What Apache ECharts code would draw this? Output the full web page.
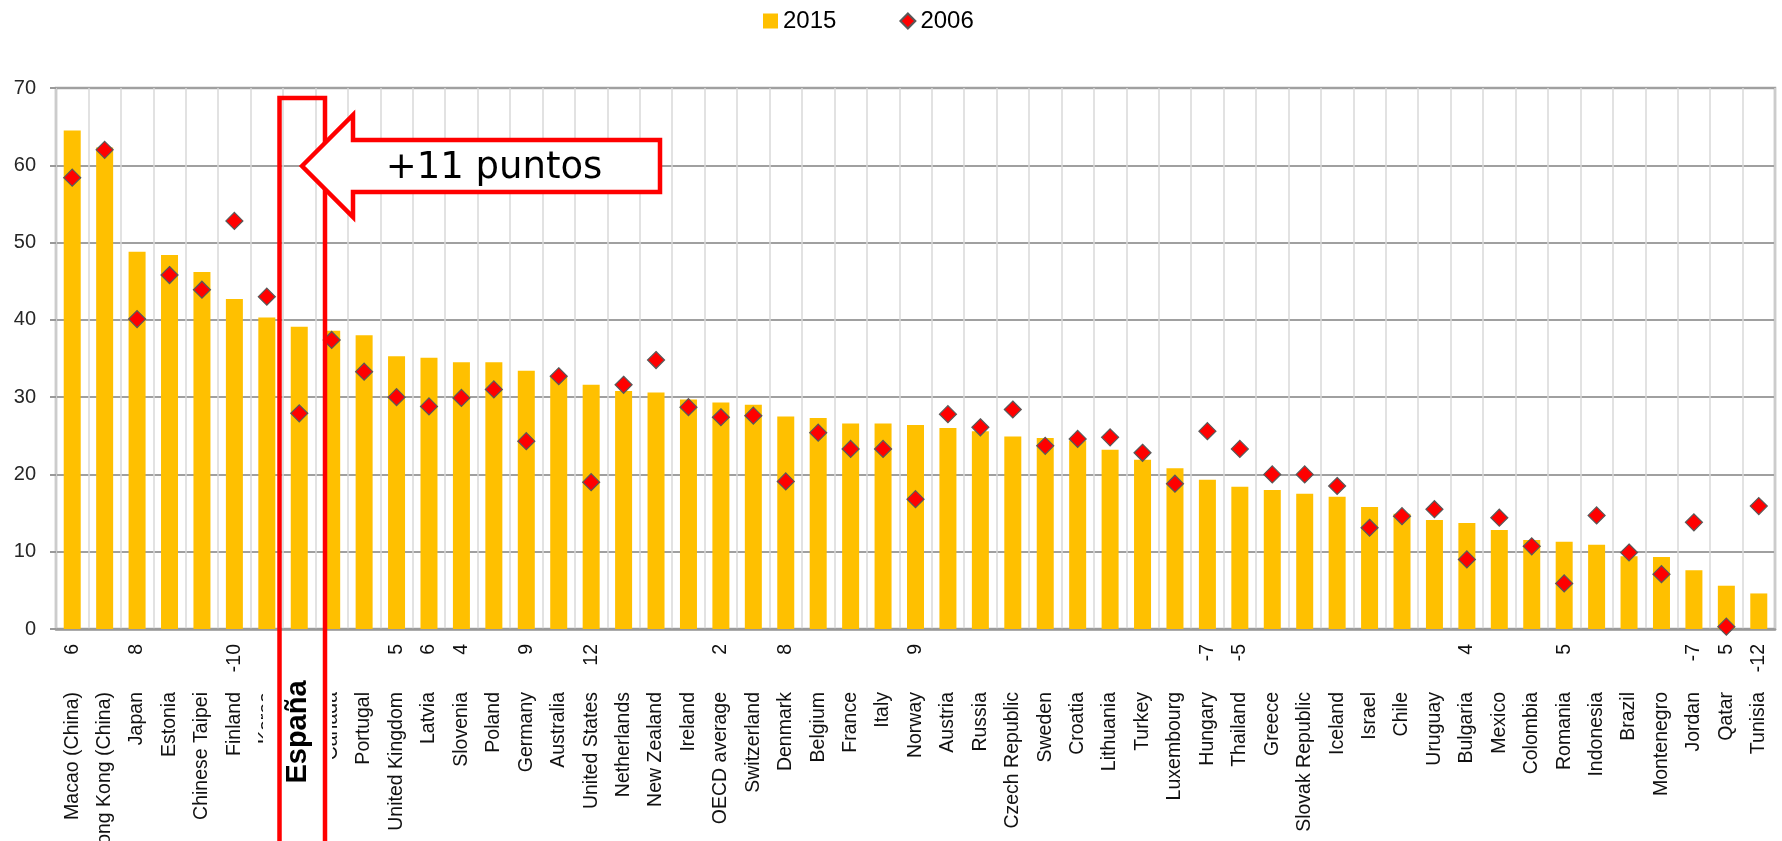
<!DOCTYPE html>
<html>
<head>
    <meta charset="utf-8">
    <title>PISA 2015 vs 2006</title>
    <script src="https://cdn.jsdelivr.net/npm/echarts@6/dist/echarts.min.js"></script>
    <style>
        html, body { margin: 0; padding: 0; background: #fff; }
    </style>
</head>
<body>
    <div id="main1" style="width: 1782px;height:841px;"></div>
    <script type="text/javascript">
        // categorias, valores 2015 / 2006 y cambio significativo
        var categories = ['Macao (China)', 'Hong Kong (China)', 'Japan', 'Estonia', 'Chinese Taipei', 'Finland', 'Korea', 'Spain',
            'Canada', 'Portugal', 'United Kingdom', 'Latvia', 'Slovenia', 'Poland', 'Germany', 'Australia', 'United States',
            'Netherlands', 'New Zealand', 'Ireland', 'OECD average', 'Switzerland', 'Denmark', 'Belgium', 'France', 'Italy',
            'Norway', 'Austria', 'Russia', 'Czech Republic', 'Sweden', 'Croatia', 'Lithuania', 'Turkey', 'Luxembourg',
            'Hungary', 'Thailand', 'Greece', 'Slovak Republic', 'Iceland', 'Israel', 'Chile', 'Uruguay', 'Bulgaria',
            'Mexico', 'Colombia', 'Romania', 'Indonesia', 'Brazil', 'Montenegro', 'Jordan', 'Qatar', 'Tunisia'];
        var values2015 = [64.5, 62.3, 48.8, 48.4, 46.2, 42.7, 40.3, 39.1, 38.6, 38.0, 35.3, 35.1, 34.5, 34.5, 33.4, 32.6,
            31.6, 30.8, 30.6, 29.7, 29.3, 29.0, 27.5, 27.3, 26.6, 26.6, 26.4, 26.0, 25.6, 24.9, 24.7, 24.4, 23.2, 21.9,
            20.8, 19.3, 18.4, 18.0, 17.5, 17.1, 15.8, 14.9, 14.1, 13.7, 12.8, 11.5, 11.3, 10.9, 9.4, 9.3, 7.6, 5.6, 4.6];
        var values2006 = [58.4, 62.0, 40.1, 45.8, 43.9, 52.8, 43.0, 27.9, 37.4, 33.3, 30.0, 28.8, 29.9, 31.0, 24.3, 32.7,
            19.0, 31.6, 34.8, 28.7, 27.4, 27.6, 19.1, 25.4, 23.3, 23.3, 16.8, 27.8, 26.1, 28.4, 23.7, 24.6, 24.8, 22.8,
            18.8, 25.6, 23.3, 20.0, 20.0, 18.5, 13.1, 14.6, 15.5, 9.0, 14.4, 10.7, 5.9, 14.7, 9.9, 7.1, 13.8, 0.3, 15.9];
        var changes = ['6', '', '8', '', '', '-10', '', '', '', '', '5', '6', '4', '', '9', '', '12', '', '', '', '2', '',
            '8', '', '', '', '9', '', '', '', '', '', '', '', '', '-7', '-5', '', '', '', '', '', '', '4', '', '', '5',
            '', '', '', '-7', '5', '-12'];
        var yTicks = [0, 10, 20, 30, 40, 50, 60, 70];

        var myChart = echarts.init(document.getElementById('main1'));
        myChart.setOption({
            animation: false,
            textStyle: { fontFamily: 'Liberation Sans, Arial, sans-serif' },
            legend: {
                left: 758,
                top: 4,
                itemWidth: 15,
                itemHeight: 15,
                itemGap: 63,
                textStyle: { fontSize: 24, color: '#000' },
                data: [{ name: '2015', icon: 'rect' }, { name: '2006', icon: 'diamond' }]
            },
            grid: {
                left: 56,
                right: 7,
                top: 88,
                bottom: 212,
                containLabel: false,
                outerBoundsMode: 'none',
                show: true,
                borderColor: '#a6a6a6',
                borderWidth: 2.5
            },
            xAxis: {
                type: 'category',
                data: categories,
                axisLine: { lineStyle: { color: '#999', width: 2.5 } },
                axisTick: { show: false },
                splitLine: { show: true, interval: 0, lineStyle: { color: '#d9d9d9', width: 1.5 } },
                axisLabel: {
                    interval: 0,
                    rotate: 90,
                    margin: 15,
                    color: '#111',
                    fontSize: 19.5,
                    formatter: function (value, idx) {
                        return '{n|' + value + '}{v|' + (changes[idx] || ' ') + '}';
                    },
                    rich: {
                        n: { fontSize: 19.5, color: '#111' },
                        v: { fontSize: 19.5, color: '#111', width: 48, align: 'right' }
                    }
                }
            },
            yAxis: {
                type: 'value',
                min: yTicks[0],
                max: yTicks[yTicks.length - 1],
                interval: 10,
                axisLine: { show: false },
                axisTick: { show: true, length: 6, lineStyle: { color: '#999', width: 2 } },
                axisLabel: { fontSize: 20, color: '#262626', margin: 20 },
                splitLine: { lineStyle: { color: '#a0a0a0', width: 2 } }
            },
            series: [
                {
                    name: '2015',
                    type: 'bar',
                    barWidth: 17,
                    itemStyle: { color: '#FFC000' },
                    data: values2015
                },
                {
                    name: '2006',
                    type: 'scatter',
                    symbol: 'diamond',
                    symbolSize: 17,
                    z: 3,
                    itemStyle: { color: '#FF0000', borderColor: '#595959', borderWidth: 1.2, opacity: 1 },
                    data: values2006
                }
            ],
            graphic: [
                {
                    type: 'rect', z: 100,
                    shape: { x: 263, y: 632, width: 69, height: 220 },
                    style: { fill: '#fff' }
                },
                {
                    type: 'rect', z: 101,
                    shape: { x: 279.5, y: 98, width: 45.5, height: 800 },
                    style: { fill: null, stroke: '#ff0000', lineWidth: 4.5 }
                },
                {
                    type: 'text', z: 102,
                    x: 298, y: 732, rotation: Math.PI / 2,
                    style: {
                        text: 'España', fill: '#000',
                        font: 'bold 29px "Liberation Sans", Arial, sans-serif',
                        align: 'center', verticalAlign: 'middle',
                        textAlign: 'center', textVerticalAlign: 'middle'
                    }
                },
                {
                    type: 'polygon', z: 103,
                    shape: { points: [[302, 166], [353, 115], [353, 140], [660, 140], [660, 192], [353, 192], [353, 217]] },
                    style: { fill: '#fff', stroke: '#ff0000', lineWidth: 4.5, lineJoin: 'miter' }
                },
                {
                    type: 'text', z: 104,
                    x: 494, y: 168,
                    style: {
                        text: '+11 puntos', fill: '#000',
                        font: '37px "DejaVu Sans", sans-serif',
                        align: 'center', verticalAlign: 'middle',
                        textAlign: 'center', textVerticalAlign: 'middle'
                    }
                }
            ]
        });
    </script>
</body>
</html>
